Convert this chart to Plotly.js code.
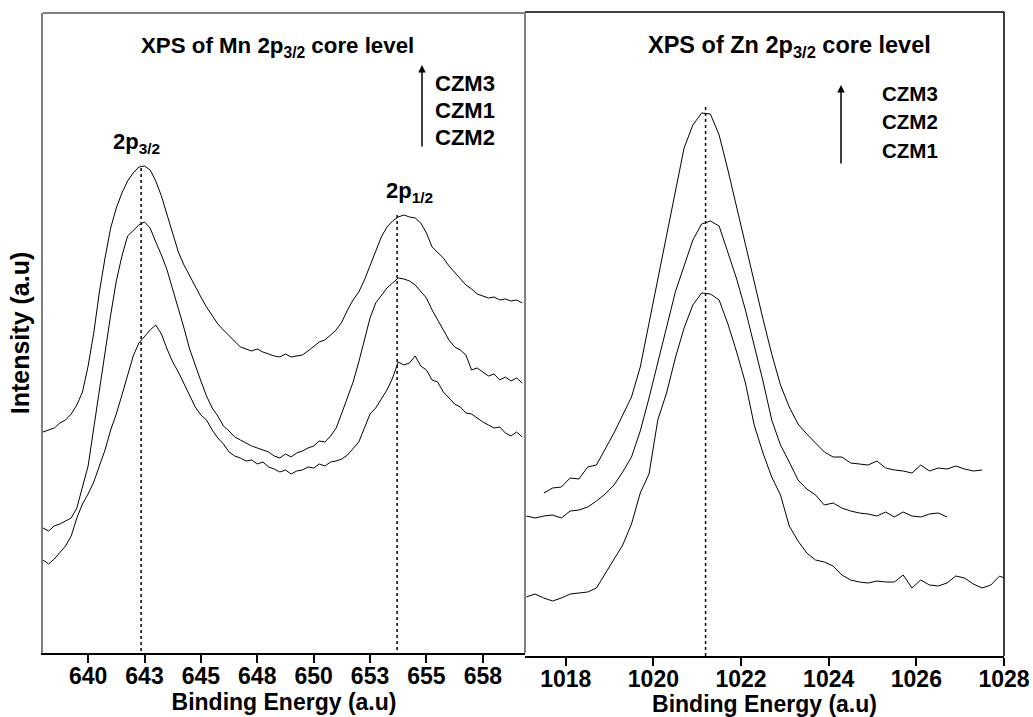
<!DOCTYPE html>
<html>
<head>
<meta charset="utf-8">
<script src="https://cdn.plot.ly/plotly-3.0.1.min.js"></script>
<style>html,body{margin:0;padding:0;background:#fff;}#chart{width:1033px;height:717px;}</style>
</head>
<body>
<div id="chart"></div>
<script>
// ---------- Mn 2p panel (binding energy, eV) ----------
const mnEnergy = [
  638,638.25,638.5,638.75, 639,639.25,639.5,639.75, 640,640.25,640.5,640.75,
  641,641.25,641.5,641.75, 642,642.25,642.5,642.75, 643,643.25,643.5,643.75,
  644,644.25,644.5,644.75, 645,645.25,645.5,645.75, 646,646.25,646.5,646.75,
  647,647.25,647.5,647.75, 648,648.25,648.5,648.75, 649,649.25,649.5,649.75,
  650,650.25,650.5,650.75, 651,651.25,651.5,651.75, 652,652.25,652.5,652.75,
  653,653.25,653.5,653.75, 654,654.25,654.5,654.75, 655,655.25,655.5,655.75,
  656,656.25,656.5,656.75, 657,657.25,657.5,657.75, 658,658.25,658.5,658.75,
  659,659.25
];
const mnCZM3 = [
  221,223,225,230, 233,239,248,261, 287,320,361,395,
  425,445,460,472, 480,486,487,483, 472,457,438,418,
  401,388,377,366, 356,346,338,329, 323,317,311,306,
  304,302,304,301, 299,297,296,299, 296,297,298,302,
  307,311,313,318, 323,331,343,353, 361,373,388,401,
  416,426,432,436, 438,436,435,430, 420,406,400,395,
  387,381,375,368, 364,359,357,355, 356,353,354,352,
  353,350
];
const mnCZM1 = [
  125,122,127,129, 132,135,145,165, 187,225,263,303,
  338,372,397,417, 423,428,431,425, 411,398,383,364,
  345,325,304,287, 272,257,245,237, 227,222,216,213,
  210,207,205,203, 201,197,195,199, 196,200,202,205,
  207,212,211,217, 225,240,255,271, 291,313,335,350,
  358,365,370,375, 374,372,368,361, 355,343,333,323,
  313,306,303,298, 283,285,281,277, 279,273,276,272,
  275,270
];
const mnCZM2 = [
  93,89,94,100, 107,117,135,149, 159,171,187,203,
  223,239,258,278, 297,310,317,323, 328,319,304,291,
  281,269,258,246, 238,233,223,215, 209,201,197,195,
  192,193,189,191, 186,184,181,183, 179,182,183,186,
  185,189,187,191, 192,194,198,205, 211,225,239,245,
  254,263,275,291, 288,290,297,287, 283,273,271,261,
  255,249,246,240, 239,235,231,228, 225,226,220,217,
  221,216
];
const mnPeakEnergy = [642.35, 653.7];
const mnPeakHeight = [485, 438];
const mnTickVals = [640, 642.5, 645, 647.5, 650, 652.5, 655, 657.5];
const mnTickText = ["640", "643", "645", "648", "650", "653", "655", "658"];
const mnOrder = ["CZM3", "CZM1", "CZM2"];

// ---------- Zn 2p panel ----------
const znEnergy = [
  1017.1,1017.3,1017.5,1017.7,1017.9,1018.1,1018.3,1018.5,1018.7,1018.9,
  1019.1,1019.3,1019.5,1019.7,1019.9,1020.1,1020.3,1020.5,1020.7,1020.9,
  1021.1,1021.3,1021.5,1021.7,1021.9,1022.1,1022.3,1022.5,1022.7,1022.9,
  1023.1,1023.3,1023.5,1023.7,1023.9,1024.1,1024.3,1024.5,1024.7,1024.9,
  1025.1,1025.3,1025.5,1025.7,1025.9,1026.1,1026.3,1026.5,1026.7,1026.9,
  1027.1,1027.3,1027.5,1027.7,1027.9,1028.1
];
const znCZM3 = [
  null,null,163,168,169,178,177,189,191,207,
  223,241,259,289,333,376,422,466,508,531,
  543,542,521,486,448,413,374,337,302,271,
  249,232,222,213,204,199,199,193,192,191,
  195,188,186,185,183,191,185,188,187,190,
  187,185,186,null,null,null
];
const znCZM2 = [
  140,138,140,141,138,145,146,149,155,162,
  171,184,199,225,258,293,329,364,390,416,
  432,435,430,403,377,346,311,275,236,211,
  194,176,167,161,151,153,148,145,143,142,
  140,144,139,144,140,139,142,143,139,null,
  null,null,null,null,null,null
];
const znCZM1 = [
  59,62,58,55,58,62,63,64,68,82,
  96,111,132,163,182,236,263,298,328,351,
  363,362,356,332,304,273,231,203,179,161,
  130,115,103,96,94,90,81,76,74,73,
  75,74,74,81,68,76,71,70,73,80,
  78,72,68,71,80,76
];
const znPeakEnergy = [1021.19];
const znPeakHeight = [549];
const znTickVals = [1018, 1020, 1022, 1024, 1026, 1028];
const znOrder = ["CZM3", "CZM2", "CZM1"];

const FONT = "Liberation Sans, Arial, Helvetica, sans-serif";
const lineStyle = {color: "#000", width: 1};

function curve(x, y, name, xa, ya) {
  return {x: x, y: y, name: name, type: "scatter", mode: "lines",
          line: lineStyle, xaxis: xa, yaxis: ya, connectgaps: false,
          hoverinfo: "x+y+name"};
}
function peakLines(e, h, xa, ya) {
  const xs = [], ys = [];
  e.forEach((v, i) => { xs.push(v, v, null); ys.push(h[i], 0, null); });
  return {x: xs, y: ys, type: "scatter", mode: "lines", showlegend: false,
          line: {color: "#000", width: 1.5, dash: "dot"}, xaxis: xa, yaxis: ya,
          hoverinfo: "skip"};
}

const traces = [
  curve(mnEnergy, mnCZM3, "CZM3", "x", "y"),
  curve(mnEnergy, mnCZM1, "CZM1", "x", "y"),
  curve(mnEnergy, mnCZM2, "CZM2", "x", "y"),
  peakLines(mnPeakEnergy, mnPeakHeight, "x", "y"),
  curve(znEnergy, znCZM3, "CZM3", "x2", "y2"),
  curve(znEnergy, znCZM2, "CZM2", "x2", "y2"),
  curve(znEnergy, znCZM1, "CZM1", "x2", "y2"),
  peakLines(znPeakEnergy, znPeakHeight, "x2", "y2")
];

const tickFont = {family: FONT, size: 23, color: "#000", weight: "bold"};
const txt = (size) => ({family: FONT, size: size, color: "#000", weight: "bold"});

function ann(text, xref, yref, x, y, xanchor, size) {
  return {text: text, xref: xref, yref: yref, x: x, y: y, xanchor: xanchor || "center",
          yanchor: "middle", showarrow: false, font: txt(size || 22)};
}
function arrow(xref, yref, x, y, len) {
  return {text: "", xref: xref, yref: yref, x: x, y: y, ax: 0, ay: len,
          showarrow: true, arrowhead: 2, arrowsize: 1, arrowwidth: 1.5, arrowcolor: "#000"};
}

const annotations = [
  ann("XPS of Mn 2p<sub>3/2</sub> core level", "x domain", "y domain", 0.4855, 0.947, "center", 22.3),
  ann("XPS of Zn 2p<sub>3/2</sub> core level", "x2 domain", "y2 domain", 0.553, 0.9457, "center", 23.5),
  ann("2p<sub>3/2</sub>", "x domain", "y domain", 0.193, 0.797),
  ann("2p<sub>1/2</sub>", "x domain", "y domain", 0.761, 0.72),
  arrow("x domain", "y domain", 0.7863, 0.9188, 83),
  arrow("x2 domain", "y2 domain", 0.6597, 0.8866, 80)
];
const mnLegendY = [0.8906, 0.8469, 0.8047];
mnOrder.forEach((t, i) => annotations.push(ann(t, "x domain", "y domain", 0.8091, mnLegendY[i], "left", 22)));
const znLegendY = [0.8742, 0.8307, 0.7857];
znOrder.forEach((t, i) => annotations.push(ann(t, "x2 domain", "y2 domain", 0.741, znLegendY[i], "left", 20.5)));

const shapes = [
  {type: "line", xref: "x domain", yref: "y domain", x0: 0, x1: 1, y0: 1, y1: 1, line: {color: "#808080", width: 2}},
  {type: "line", xref: "x domain", yref: "y domain", x0: 1, x1: 1, y0: 0, y1: 1, line: {color: "#808080", width: 2}},
  {type: "line", xref: "x2 domain", yref: "y2 domain", x0: 0, x1: 1, y0: 1, y1: 1, line: {color: "#000", width: 1.5}},
  {type: "line", xref: "x2 domain", yref: "y2 domain", x0: 1, x1: 1, y0: 0, y1: 1, line: {color: "#000", width: 1.5}}
];

const xCommon = {showgrid: false, zeroline: false, showline: true, linecolor: "#000", linewidth: 2,
                 ticks: "outside", ticklen: 8, tickwidth: 2, tickcolor: "#000", tickfont: tickFont,
                 ticklabelstandoff: -7, fixedrange: true};

const layout = {
  width: 1033, height: 717,
  margin: {l: 43, r: 29, t: 12, b: 61},
  paper_bgcolor: "#fff", plot_bgcolor: "#fff",
  showlegend: false,
  font: {family: FONT, color: "#000"},
  xaxis: Object.assign({}, xCommon, {
    domain: [0, 0.50156], range: [638, 659.37], anchor: "y",
    tickmode: "array", tickvals: mnTickVals, ticktext: mnTickText,
    title: {text: "Binding Energy (a.u)", font: txt(23), standoff: 5}
  }),
  yaxis: {
    domain: [0.00466, 0.99845], range: [0, 640], anchor: "x",
    showgrid: false, zeroline: false, showline: true, linecolor: "#808080", linewidth: 2,
    showticklabels: false, ticks: "", fixedrange: true,
    title: {text: "Intensity (a.u)", font: txt(25), standoff: 4}
  },
  xaxis2: Object.assign({}, xCommon, {
    domain: [0.50156, 1], range: [1017.07, 1028], anchor: "y2",
    tickmode: "array", tickvals: znTickVals, ticktext: znTickVals.map(String),
    title: {text: "Binding Energy (a.u)", font: txt(23), standoff: 5}
  }),
  yaxis2: {
    domain: [0, 1], range: [0, 644], anchor: "x2",
    showgrid: false, zeroline: false, showline: false, showticklabels: false, ticks: "",
    fixedrange: true
  },
  annotations: annotations,
  shapes: shapes
};

Plotly.newPlot("chart", traces, layout, {displayModeBar: false, staticPlot: true});
</script>
</body>
</html>
